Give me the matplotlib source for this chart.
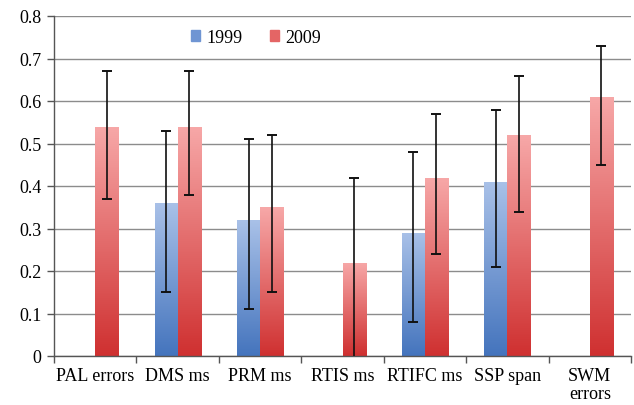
import numpy as np
import matplotlib.pyplot as plt
from matplotlib.colors import LinearSegmentedColormap

categories = ["PAL errors", "DMS ms", "PRM ms", "RTIS ms", "RTIFC ms", "SSP span", "SWM\nerrors"]
v1999 = [np.nan, 0.36, 0.32, np.nan, 0.29, 0.41, np.nan]
lo1999 = [np.nan, 0.15, 0.11, np.nan, 0.08, 0.21, np.nan]
hi1999 = [np.nan, 0.53, 0.51, np.nan, 0.48, 0.58, np.nan]
v2009 = [0.54, 0.54, 0.35, 0.22, 0.42, 0.52, 0.61]
lo2009 = [0.37, 0.38, 0.15, -0.02, 0.24, 0.34, 0.45]
hi2009 = [0.67, 0.67, 0.52, 0.42, 0.57, 0.66, 0.73]

plt.rcParams['font.family'] = ['Liberation Serif', 'DejaVu Serif']

fig = plt.figure(figsize=(6.34, 4.06), dpi=100)
ax = fig.add_axes([54/634, 1-357/406, (631-54)/634, (357-17)/406])

blue_cm = LinearSegmentedColormap.from_list("b", ["#4474bd", "#a9c1e8"])
red_cm = LinearSegmentedColormap.from_list("r", ["#cf3030", "#f7a8a8"])
grad = np.linspace(0, 1, 256).reshape(-1, 1)

x = np.arange(len(categories))
w = 0.28


def grad_bars(xs, vals, cmap):
    bars = ax.bar(xs, vals, w, align='edge', color='none', edgecolor='none', zorder=2)
    for b in bars:
        if np.isnan(b.get_height()):
            continue
        x0, y0 = b.get_x(), b.get_y()
        im = ax.imshow(grad, cmap=cmap, origin='lower', aspect='auto',
                       extent=[x0, x0 + b.get_width(), y0, y0 + b.get_height()], zorder=2)
        im.set_clip_path(b)


grad_bars(x - w, v1999, blue_cm)
grad_bars(x, v2009, red_cm)

v1 = np.array(v1999); v2 = np.array(v2009)
ax.errorbar(x - w/2, v1, yerr=[v1 - np.array(lo1999), np.array(hi1999) - v1],
            fmt='none', ecolor='#111111', elinewidth=1.2, capsize=3.5, capthick=1.4, zorder=3)
ax.errorbar(x + w/2, v2, yerr=[v2 - np.array(lo2009), np.array(hi2009) - v2],
            fmt='none', ecolor='#111111', elinewidth=1.2, capsize=3.5, capthick=1.4, zorder=3)

ax.set_xlim(-0.5, len(categories) - 0.5)
ax.set_ylim(0, 0.8)
ax.set_yticks(np.arange(0, 0.81, 0.1))
ax.set_yticklabels(["0"] + ["%.1f" % t for t in np.arange(0.1, 0.81, 0.1)])
ax.yaxis.grid(True, color='#8c8c8c', linewidth=1.0, zorder=0)
ax.set_axisbelow(True)

ax.set_xticks(x)
ax.set_xticklabels(categories, linespacing=1.05)
ax.set_xticks(np.arange(-0.5, len(categories) + 0.5, 1), minor=True)
ax.tick_params(axis='x', which='major', length=0, pad=8, labelsize=13)
ax.tick_params(axis='x', which='minor', length=5, width=1, color='#555555')
ax.tick_params(axis='y', length=5, width=1, color='#555555', labelsize=13, pad=4)

for s in ['top', 'right']:
    ax.spines[s].set_visible(False)
for s in ['left', 'bottom']:
    ax.spines[s].set_color('#555555')
    ax.spines[s].set_linewidth(1)

h1 = plt.Rectangle((0, 0), 1, 1, color='#6f95d3')
h2 = plt.Rectangle((0, 0), 1, 1, color='#e46565')
ax.legend([h1, h2], ["1999", "2009"], loc='upper left', bbox_to_anchor=(0.21, 1.01),
          ncol=2, frameon=False, fontsize=13, handlelength=0.5, handleheight=0.5,
          handletextpad=0.35, columnspacing=1.5)

fig.savefig("out.png", dpi=100)
